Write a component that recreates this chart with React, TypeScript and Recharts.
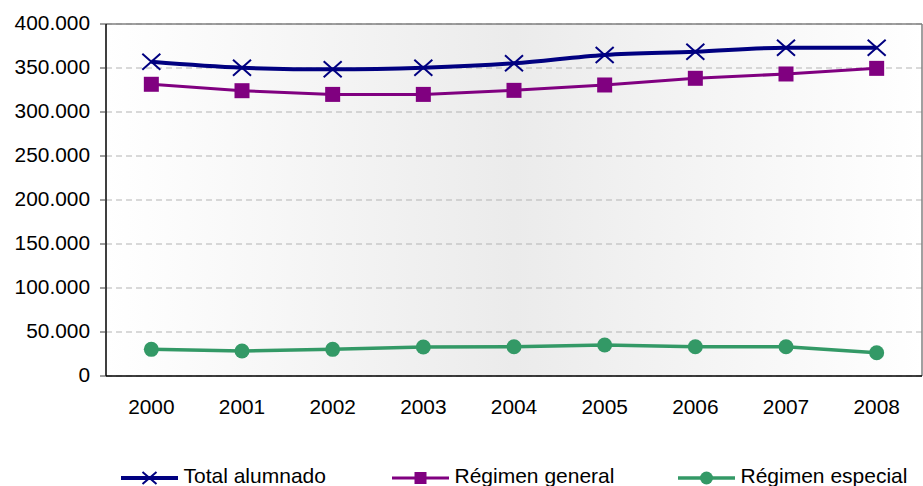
import React from "react";
import {
  LineChart,
  Line,
  XAxis,
  YAxis,
  CartesianGrid,
  ReferenceLine,
  Legend,
} from "recharts";

const years = ["2000", "2001", "2002", "2003", "2004", "2005", "2006", "2007", "2008"];
const totalAlumnado = [357000, 350300, 348500, 350300, 355300, 364800, 368500, 373100, 373000];
const regimenGeneral = [331500, 324200, 320000, 320000, 324600, 330700, 338300, 343200, 349600];
const regimenEspecial = [30300, 28400, 30300, 33000, 33300, 35200, 33300, 33300, 26500];
const yTicks = [0, 50000, 100000, 150000, 200000, 250000, 300000, 350000, 400000];

const data = years.map((year, i) => ({
  i,
  year,
  total: totalAlumnado[i],
  general: regimenGeneral[i],
  especial: regimenEspecial[i],
}));

// tick marks sit between the categories, labels on them
const boundaryTicks = [...years.map((_, i) => i - 0.5), years.length - 0.5];
const labelTicks = years.map((_, i) => i);
const xDomain = [-0.5, years.length - 0.5];

// the original is Arial, a bit stretched sideways on the axes
const FONT = "'Liberation Sans', Arial, sans-serif";
const AXIS_SIZE = 19.5;
const STRETCH = 1.07;
const NAVY = "#000080";
const PURPLE = "#800080";
const GREEN = "#339966";

const fmt = (v: number) => String(v).replace(/\B(?=(\d{3})+(?!\d))/g, ".");

const YTick = ({ x, y, payload }: any) => (
  <g transform={`translate(${x},${y})`}>
    <text
      transform={`scale(${STRETCH},1)`}
      textAnchor="end"
      dy="0.3em"
      fill="#000"
      fontFamily={FONT}
      fontSize={AXIS_SIZE}
    >
      {fmt(payload.value)}
    </text>
  </g>
);

const XTick = ({ x, y, payload }: any) => (
  <g transform={`translate(${x},${y})`}>
    <text
      transform={`scale(${STRETCH},1)`}
      textAnchor="middle"
      dy="0.71em"
      fill="#000"
      fontFamily={FONT}
      fontSize={AXIS_SIZE}
    >
      {years[payload.value]}
    </text>
  </g>
);

const Cross = ({ cx, cy, s = 9 }: any) => (
  <path
    d={`M${cx - s},${cy - s + 1}L${cx + s},${cy + s - 1}M${cx - s},${cy + s - 1}L${cx + s},${cy - s + 1}`}
    stroke={NAVY}
    strokeWidth={2}
    fill="none"
  />
);
const Square = ({ cx, cy, s = 7.5 }: any) => (
  <rect x={cx - s} y={cy - s} width={s * 2} height={s * 2} fill={PURPLE} />
);
const Dot = ({ cx, cy, r = 7.5 }: any) => <circle cx={cx} cy={cy} r={r} fill={GREEN} />;

const legendItems = [
  { name: "Total alumnado", color: NAVY, width: 4, textW: 143, marker: (x: number, y: number) => <Cross cx={x} cy={y} s={7} /> },
  { name: "Régimen general", color: PURPLE, width: 3, textW: 158, marker: (x: number, y: number) => <Square cx={x} cy={y} s={6} /> },
  { name: "Régimen especial", color: GREEN, width: 3.5, textW: 167, marker: (x: number, y: number) => <Dot cx={x} cy={y} r={6.5} /> },
];

const renderLegend = () => (
  <div
    style={{
      display: "flex",
      justifyContent: "center",
      gap: 65,
      height: 24,
      fontFamily: FONT,
      fontSize: 21,
      color: "#000",
    }}
  >
    {legendItems.map((it) => (
      <div key={it.name} style={{ display: "flex", alignItems: "center", gap: 6, lineHeight: "24px" }}>
        <svg width={57} height={24} style={{ display: "block" }}>
          <line x1={0} x2={57} y1={12} y2={12} stroke={it.color} strokeWidth={it.width} />
          {it.marker(28.5, 12)}
        </svg>
        <div style={{ width: it.textW, whiteSpace: "nowrap", position: "relative", top: -2 }}>
          {it.name}
        </div>
      </div>
    ))}
  </div>
);

export default function App() {
  return (
    <div style={{ position: "absolute", left: 0, top: 0, width: 923, height: 486, background: "#fff", overflow: "hidden" }}>
      <LineChart
        width={923}
        height={486}
        data={data}
        margin={{ top: 24, right: 1, left: 0, bottom: 35 }}
      >
        <defs>
          <linearGradient id="plotBg" x1="0" y1="0" x2="1" y2="0">
            <stop offset="0%" stopColor="#ffffff" />
            <stop offset="50%" stopColor="#ebebeb" />
            <stop offset="100%" stopColor="#ffffff" />
          </linearGradient>
        </defs>
        <CartesianGrid
          vertical={false}
          stroke="#b4b4b4"
          strokeDasharray="6 4"
          fill="url(#plotBg)"
          xAxisId="frame"
        />
        <XAxis
          xAxisId="frame"
          dataKey="i"
          type="number"
          domain={xDomain}
          ticks={boundaryTicks}
          interval={0}
          tick={false}
          tickSize={6}
          height={1}
          axisLine={{ stroke: "#000", strokeWidth: 1.5 }}
          tickLine={{ stroke: "#000" }}
        />
        <XAxis
          xAxisId="labels"
          dataKey="i"
          type="number"
          domain={xDomain}
          ticks={labelTicks}
          interval={0}
          axisLine={false}
          tickLine={false}
          tickSize={6}
          tickMargin={17}
          height={50}
          tick={<XTick />}
        />
        <YAxis
          width={106}
          domain={[0, 400000]}
          ticks={yTicks}
          interval={0}
          tickSize={6}
          tickMargin={10}
          axisLine={{ stroke: "#000", strokeWidth: 1.5 }}
          tickLine={{ stroke: "#404040" }}
          tick={<YTick />}
        />
        <ReferenceLine xAxisId="frame" y={400000} stroke="#808080" strokeWidth={1.5} />
        <ReferenceLine xAxisId="frame" x={years.length - 0.5} stroke="#808080" strokeWidth={1.5} />
        <Legend
          verticalAlign="bottom"
          content={renderLegend}
          wrapperStyle={{ left: 106, width: 816, bottom: -4 }}
        />
        <Line
          xAxisId="frame"
          type="linear"
          dataKey="especial"
          name="Régimen especial"
          stroke={GREEN}
          strokeWidth={3.5}
          dot={(p: any) => <Dot key={`e${p.index}`} cx={p.cx} cy={p.cy} />}
          isAnimationActive={false}
        />
        <Line
          xAxisId="frame"
          type="linear"
          dataKey="general"
          name="Régimen general"
          stroke={PURPLE}
          strokeWidth={3}
          dot={(p: any) => <Square key={`g${p.index}`} cx={p.cx} cy={p.cy} />}
          isAnimationActive={false}
        />
        <Line
          xAxisId="frame"
          type="monotone"
          dataKey="total"
          name="Total alumnado"
          stroke={NAVY}
          strokeWidth={4}
          dot={(p: any) => <Cross key={`t${p.index}`} cx={p.cx} cy={p.cy} />}
          isAnimationActive={false}
        />
      </LineChart>
    </div>
  );
}
